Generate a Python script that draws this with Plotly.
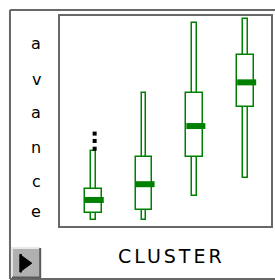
import plotly.graph_objects as go

# ---- data (y scale 0-100, arbitrary units) ----
clusters = [1, 2, 3, 4]
x_pos = [0, 1, 2, 3]
whisker_low = [3.0, 2.9, 14.4, 23.0]
q1 = [6.2, 7.8, 32.7, 56.5]
median = [12.4, 19.9, 47.6, 68.4]
q3 = [17.5, 32.9, 63.2, 81.4]
whisker_high = [35.9, 63.2, 96.8, 98.6]
outlier_x = [0, 0, 0]
outlier_y = [36.8, 40.5, 44.0]
y_label = "avance"
x_label = "CLUSTER"

GREEN = "#008000"
FRAME = "#686868"

OFF = 0  # page offset of the figure (body margin removed below)
W, H = 275, 280
L, T = 60 - OFF, 16 - OFF
R = W - (273 - OFF)
B = H - (226 - OFF)
PW, PH = W - L - R, H - T - B


def px(x):
    return (x - OFF - L) / PW


def py(y):
    return (H - B - (y - OFF)) / PH


fig = go.Figure()

# whiskers as thin hollow bars
fig.add_trace(go.Bar(
    x=x_pos, base=whisker_low,
    y=[h - l for h, l in zip(whisker_high, whisker_low)],
    width=0.095, marker=dict(color="white", line=dict(color=GREEN, width=1.5)),
    hoverinfo="skip", showlegend=False))
# boxes
fig.add_trace(go.Bar(
    x=x_pos, base=q1, y=[b - a for a, b in zip(q1, q3)],
    width=0.33, marker=dict(color="white", line=dict(color=GREEN, width=1.5)),
    hoverinfo="skip", showlegend=False))
# medians as thick segments
mx, my = [], []
for xc, m in zip(x_pos, median):
    mx += [xc - 0.165, xc + 0.21, None]
    my += [m, m, None]
fig.add_trace(go.Scatter(x=mx, y=my, mode="lines",
                         line=dict(color=GREEN, width=6),
                         hoverinfo="skip", showlegend=False))
# outliers
fig.add_trace(go.Scatter(x=[v + 0.03 for v in outlier_x], y=outlier_y, mode="markers",
                         marker=dict(symbol="square", size=4, color="black",
                                     line=dict(width=0)),
                         hoverinfo="skip", showlegend=False))

shapes = []
# outer frame (left, top, bottom)
shapes.append(dict(type="line", xref="paper", yref="paper",
                   x0=px(9.5), x1=px(300), y0=py(10), y1=py(10),
                   line=dict(color=FRAME, width=2)))
shapes.append(dict(type="line", xref="paper", yref="paper",
                   x0=px(9.5), x1=px(9.5), y0=py(10), y1=py(279),
                   line=dict(color=FRAME, width=2)))
shapes.append(dict(type="line", xref="paper", yref="paper",
                   x0=px(9.5), x1=px(300), y0=py(279), y1=py(279),
                   line=dict(color=FRAME, width=2)))
# button
shapes.append(dict(type="rect", xref="paper", yref="paper",
                   x0=px(11.5), x1=px(40), y0=py(277.5), y1=py(248),
                   fillcolor="#b0b0b0", line=dict(width=0)))
shapes.append(dict(type="path", xref="paper", yref="paper",
                   path=f"M{px(11.5)},{py(277.5)} L{px(11.5)},{py(248)} L{px(40)},{py(248)}",
                   line=dict(color="#e8e8e8", width=2)))
shapes.append(dict(type="path", xref="paper", yref="paper",
                   path=f"M{px(11.5)},{py(277.5)} L{px(40)},{py(277.5)} L{px(40)},{py(248)}",
                   line=dict(color="#5a5a5a", width=2)))
shapes.append(dict(type="path", xref="paper", yref="paper",
                   path=f"M{px(19.5)},{py(254.5)} L{px(31.5)},{py(263.2)} L{px(19.5)},{py(272)} Z",
                   fillcolor="black", line=dict(color="black", width=1)))
shapes.append(dict(type="line", xref="paper", yref="paper",
                   x0=px(20.5), x1=px(20.5), y0=py(254), y1=py(272.5),
                   line=dict(color="black", width=2)))

annotations = []
letter_y = [44, 79, 112.5, 147.5, 181, 211.5]
for ch, yc in zip(y_label, letter_y):
    annotations.append(dict(text=ch, xref="paper", yref="paper",
                            x=px(36), y=py(yc), xanchor="center", yanchor="middle",
                            showarrow=False,
                            font=dict(family="DejaVu Sans", size=16, color="black")))
annotations.append(dict(text=f"<span style='letter-spacing:3px'>{x_label}</span>",
                        xref="paper", yref="paper",
                        x=px(173), y=py(256), xanchor="center", yanchor="middle",
                        showarrow=False,
                        font=dict(family="DejaVu Sans", size=19, color="black")))

fig.update_layout(
    width=W, height=H,
    margin=dict(l=L, r=R, t=T, b=B, pad=0),
    paper_bgcolor="white", plot_bgcolor="white",
    barmode="overlay", bargap=0,
    shapes=shapes, annotations=annotations,
    xaxis=dict(range=[-0.652, 3.502], showticklabels=False, showgrid=False,
               zeroline=False, showline=True, mirror=True,
               linecolor=FRAME, linewidth=2, ticks="", fixedrange=True),
    yaxis=dict(range=[0, 100], showticklabels=False, showgrid=False,
               zeroline=False, showline=True, mirror=True,
               linecolor=FRAME, linewidth=2, ticks="", fixedrange=True),
)

fig.write_html("out.html", config={"displayModeBar": False},
               post_script="document.body.style.margin='0';"
                           "document.body.style.overflow='hidden';")
